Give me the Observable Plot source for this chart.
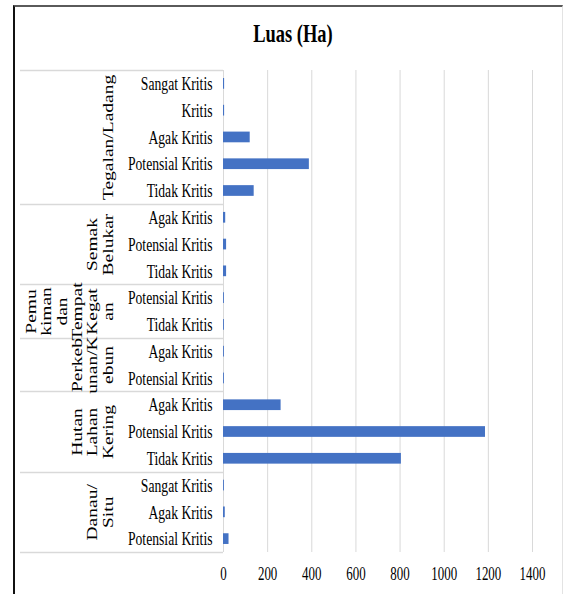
<!DOCTYPE html>
<html><head><meta charset="utf-8">
<script src="https://cdn.jsdelivr.net/npm/d3@7"></script>
<script src="https://cdn.jsdelivr.net/npm/@observablehq/plot@0.6"></script>
<style>
body{margin:0;background:#fff;}
#wrap{position:relative;width:563px;height:594px;overflow:hidden;background:#fff;}
#frame{position:absolute;left:13px;top:5px;width:550px;height:600px;border-top:2px solid #5a5a5a;border-left:2px solid #111;border-right:1px solid #e3e3e3;box-sizing:border-box;}
#title{position:absolute;left:15px;width:547px;top:19px;line-height:30px;text-align:center;font:bold 26px "Liberation Serif",serif;color:#000;transform:scaleX(0.71);transform-origin:289px 50%;}
#chart{position:absolute;left:0;top:60px;}
</style></head>
<body><div id="wrap"><div id="frame"></div><div id="title">Luas (Ha)</div><div id="chart"></div></div>
<script>
const groups = ["Tegalan/Ladang","Semak Belukar","Pemukiman dan Tempat Kegatan","Perkebunan/Kebun","Hutan Lahan Kering","Danau/Situ"];
const groupLines = [["Tegalan/Ladang"],["Semak","Belukar"],["Pemu","kiman","dan","Tempat","Kegat","an"],["Perkeb","unan/K","ebun"],["Hutan","Lahan","Kering"],["Danau/","Situ"]];
const groupSizes = [5,3,2,2,3,3];
const classes = ["Sangat Kritis","Kritis","Agak Kritis","Potensial Kritis","Tidak Kritis",
  "Agak Kritis","Potensial Kritis","Tidak Kritis",
  "Potensial Kritis","Tidak Kritis",
  "Agak Kritis","Potensial Kritis",
  "Agak Kritis","Potensial Kritis","Tidak Kritis",
  "Sangat Kritis","Agak Kritis","Potensial Kritis"];
const luas = [5,5,121,389,139, 10,14,14, 4,4, 4,4, 261,1187,806, 4,8,25];
const xTicks = [0,200,400,600,800,1000,1200,1400];

const rows = classes.map((c,i)=>({i, cls:c, v:luas[i]}));
const starts = []; let s = 0;
groupSizes.forEach(n=>{starts.push(s); s+=n;});
const bounds = [...starts, s];
const groupData = groups.map((g,k)=>({name:g, text:groupLines[k].join("\n"), mid:starts[k]+groupSizes[k]/2}));

const serif = '"Liberation Serif", "Times New Roman", serif';
const chart = Plot.plot({
  width:563, height:534,
  marginLeft:223, marginRight:31, marginTop:10, marginBottom:42,
  style:{fontFamily:serif, fontSize:"18.5px", color:"#000", background:"transparent", overflow:"visible"},
  x:{domain:[0,1400], ticks:xTicks, tickSize:0, tickPadding:14, tickFormat:d=>String(d), label:null},
  y:{domain:[0, rows.length], reverse:true, axis:null},
  marks:[
    Plot.ruleX(xTicks, {stroke:"#d9d9d9", strokeWidth:1}),
    (index, scales, values, dims) => {
      const g = d3.create("svg:g").attr("stroke","#d9d9d9").attr("stroke-width",1.5);
      for (const b of bounds) {
        const yy = Math.round(scales.y(b)) + 0.5;
        g.append("line").attr("x1",20).attr("x2",dims.marginLeft).attr("y1",yy).attr("y2",yy);
      }
      return g.node();
    },
    Plot.rectX(rows, {x1:0, x2:"v", y1:d=>d.i+0.3, y2:d=>d.i+0.7, fill:"#4472C4"}),
    Plot.text(rows, {x:0, y:d=>d.i+0.5, text:"cls", textAnchor:"end", dx:-11, fontSize:19.5, fill:"#000"}),
    Plot.text(groupData, {y:"mid", text:"text", frameAnchor:"left", rotate:-90, lineAnchor:"bottom", dx:-111, lineHeight:1.12, textAnchor:"middle", fontSize:19.5, fill:"#000"})
  ]
});
// Narrow the glyphs horizontally, as in the reference's condensed serif lettering
d3.select(chart).selectAll("text").each(function(){
  const t = this.getAttribute("transform");
  if (t && /^translate\([^)]*\)/.test(t)) {
    this.setAttribute("transform", t.replace(/^(translate\([^)]*\))/, "$1 scale(0.7,1)"));
  } else if (!t) {
    const x = +this.getAttribute("x") || 0, y = +this.getAttribute("y") || 0;
    this.removeAttribute("x"); this.removeAttribute("y");
    this.setAttribute("transform", `translate(${x},${y}) scale(0.7,1)`);
  }
});
document.getElementById("chart").appendChild(chart);
</script>
</body></html>
